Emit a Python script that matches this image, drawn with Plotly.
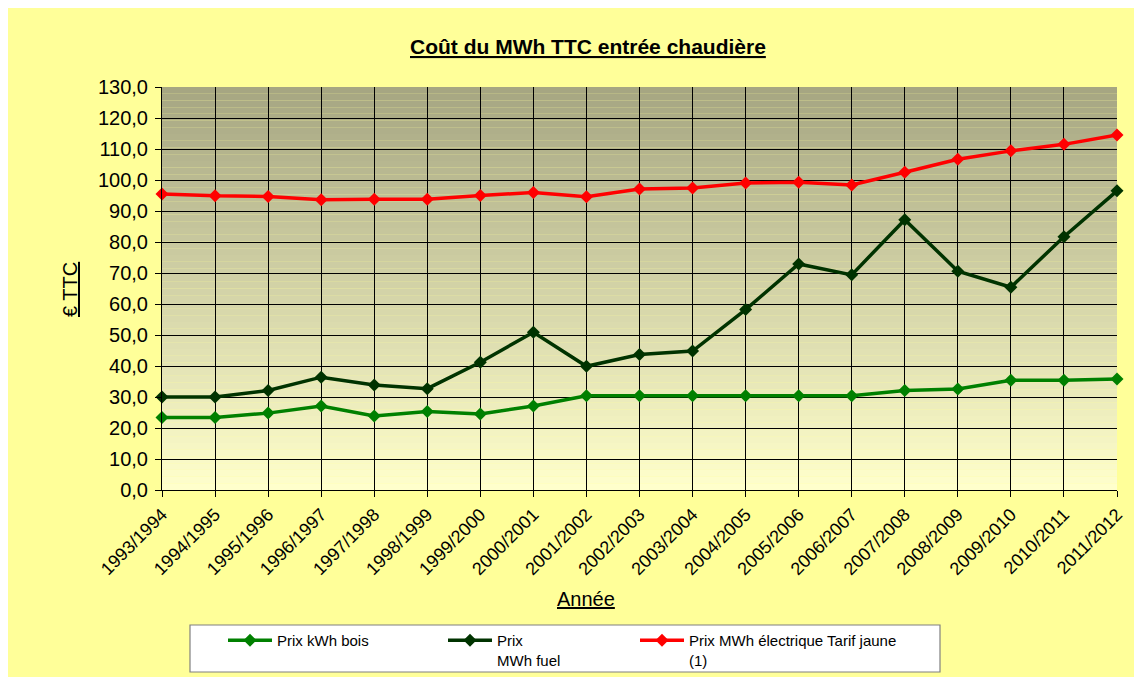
import plotly.graph_objects as go

categories = ["1993/1994", "1994/1995", "1995/1996", "1996/1997", "1997/1998", "1998/1999",
              "1999/2000", "2000/2001", "2001/2002", "2002/2003", "2003/2004", "2004/2005",
              "2005/2006", "2006/2007", "2007/2008", "2008/2009", "2009/2010", "2010/2011",
              "2011/2012"]
bois = [23.4, 23.4, 24.8, 27.1, 23.9, 25.3, 24.5, 27.1, 30.4, 30.4, 30.4, 30.4,
        30.4, 30.4, 32.1, 32.6, 35.4, 35.4, 35.8]
fuel = [30.0, 30.0, 32.1, 36.4, 33.9, 32.7, 41.2, 50.9, 39.9, 43.7, 44.8, 58.2,
        72.9, 69.4, 87.2, 70.6, 65.4, 81.7, 96.5]
elec = [95.5, 94.9, 94.7, 93.6, 93.8, 93.8, 95.0, 96.0, 94.6, 97.1, 97.4, 99.0,
        99.3, 98.4, 102.5, 106.7, 109.4, 111.5, 114.5]
series_names = ["Prix kWh bois", "Prix<br>MWh fuel", "Prix MWh électrique Tarif jaune<br>(1)"]
yticks = [0, 10, 20, 30, 40, 50, 60, 70, 80, 90, 100, 110, 120, 130]

W, H = 1142, 677
OFF = 8  # page body margin
L, T = 162 - OFF, 87 - OFF
R = W - (1117 - OFF)
B = H - (490 - OFF)
PW, PH = W - L - R, H - T - B
FONT = "Arial, Liberation Sans, sans-serif"

def px(xs):
    return (xs - OFF - L) / PW

def py(ys):
    return (H - B - (ys - OFF)) / PH

def cx(xs):
    return (xs - OFF) / W

def cy(ys):
    return 1 - (ys - OFF) / H

fig = go.Figure()
colors = ["#008000", "#003300", "#FF0000"]
legends = ["legend", "legend2", "legend3"]
for vals, name, col, lg in zip([bois, fuel, elec], series_names, colors, legends):
    fig.add_trace(go.Scatter(
        x=categories, y=vals, name=name, mode="lines+markers",
        line=dict(color=col, width=3.5),
        marker=dict(symbol="diamond", size=10, color=col),
        legend=lg, cliponaxis=False,
    ))

# gradient background in plot area
shapes = []
n = 60
top = (166, 166, 130)
bot = (255, 255, 204)
for i in range(n):
    t = i / (n - 1)
    c = tuple(round(top[k] + (bot[k] - top[k]) * t) for k in range(3))
    shapes.append(dict(type="rect", xref="x domain", yref="y domain",
                       x0=0, x1=1, y0=1 - (i + 1) / n, y1=1 - i / n,
                       fillcolor="rgb(%d,%d,%d)" % c, line=dict(width=0), layer="below"))
# legend box
shapes.append(dict(type="rect", xref="paper", yref="paper", x0=px(190), x1=px(940),
                   y0=py(672), y1=py(625), fillcolor="white",
                   line=dict(color="#808080", width=1.2), layer="below"))

ann_common = dict(xref="paper", yref="paper", showarrow=False, xanchor="center", yanchor="middle")
annotations = [
    dict(text="<b><u>Coût du MWh TTC entrée chaudière</u></b>", x=px(588), y=py(47),
         font=dict(size=21, color="black", family=FONT), **ann_common),
    dict(text="<u>Année</u>", x=px(586), y=py(599),
         font=dict(size=20, color="black", family=FONT), **ann_common),
    dict(text="<u>€ TTC</u>", x=px(70), y=py(290), textangle=-90,
         font=dict(size=20, color="black", family=FONT), **ann_common),
]

leg_common = dict(orientation="h", bgcolor="rgba(0,0,0,0)", borderwidth=0,
                  font=dict(size=15, color="black", family=FONT), valign="top",
                  itemwidth=44, xanchor="left", yanchor="top",
                  xref="container", yref="container",
                  itemclick=False, itemdoubleclick=False)

fig.update_layout(
    width=W, height=H,
    margin=dict(l=L, r=R, t=T, b=B, autoexpand=False),
    paper_bgcolor="#FFFF99",
    plot_bgcolor="rgba(0,0,0,0)",
    separators=",.",
    showlegend=True,
    shapes=shapes,
    annotations=annotations,
    legend=dict(x=cx(223), y=cy(624), **leg_common),
    legend2=dict(x=cx(443), y=cy(624), **leg_common),
    legend3=dict(x=cx(635), y=cy(624), **leg_common),
    xaxis=dict(
        type="category", range=[0, len(categories) - 1],
        showgrid=True, gridcolor="black", gridwidth=1,
        showline=True, linecolor="black", linewidth=1,
        ticks="outside", ticklen=6, tickcolor="black",
        tickangle=-45, tickfont=dict(size=18, color="black", family=FONT),
        zeroline=False, automargin=False,
    ),
    yaxis=dict(
        range=[0, 130], tickvals=yticks, tickformat=".1f",
        showgrid=True, gridcolor="black", gridwidth=1,
        showline=True, linecolor="black", linewidth=1,
        ticks="outside", ticklen=6, tickcolor="black", ticklabelstandoff=3,
        tickfont=dict(size=20, color="black", family=FONT),
        zeroline=False, automargin=False,
    ),
)

fig.write_html("out.html")
